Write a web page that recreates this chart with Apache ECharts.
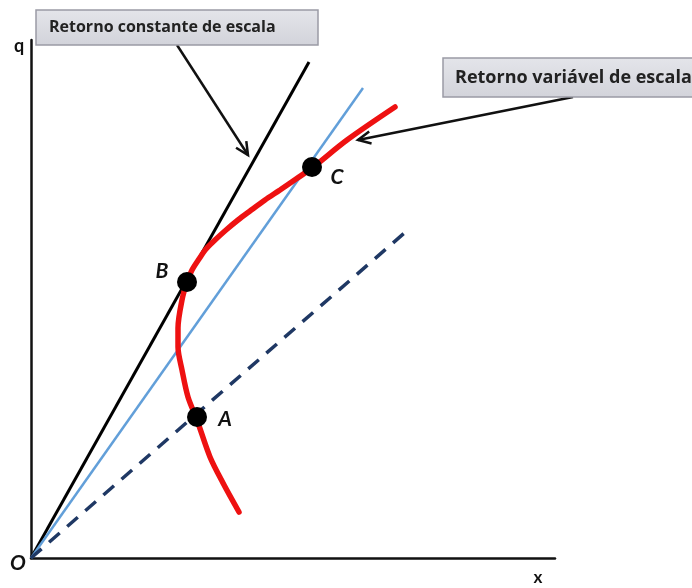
<!DOCTYPE html>
<html>
<head>
<meta charset="utf-8">
<script src="https://cdn.jsdelivr.net/npm/echarts@6/dist/echarts.min.js"></script>
<style>
  html, body { margin: 0; padding: 0; background: #fff; }
  #chart { width: 692px; height: 588px; }
</style>
</head>
<body>
<div id="chart"></div>
<script>
// rays from the origin (x, q)
const constantRay = [[0, 0], [278, 496]];
const blueRay = [[0, 0], [332, 470]];
const dashedRay = [[0, 0], [378, 329]];

// variable returns curve, from its lower end up to its upper end
const variableCurve = [
  [208, 46], [192, 75], [179, 101], [166, 138], [157, 161], [151, 188],
  [147, 211], [147, 230], [151, 258], [156, 276], [161, 288], [168, 299],
  [175, 309], [184, 318], [195, 328], [207, 338], [219, 347], [234, 358],
  [249, 368], [265, 379], [281, 390], [316, 418], [364, 451]
];

const pointNames = ['A', 'B', 'C'];
const pointValues = [[166, 141], [156, 276], [281, 391]];

// arrows: [from, to] in data units
const arrows = [
  [[146, 513], [217, 403]],
  [[542, 461], [327, 418]]
];

const labelFont = 'Lato, "Liberation Sans", sans-serif';
const boxFont = '"Open Sans", "Liberation Sans", sans-serif';
const labelOffsets = { A: [28, 2], B: [-25, -11], C: [25, 10] };

const chart = echarts.init(document.getElementById('chart'));

const option = {
  animation: false,
  grid: { left: 31, right: 137, top: 40, bottom: 30 },
  xAxis: {
    type: 'value', min: 0, max: 524,
    axisLine: { show: true, onZero: false, lineStyle: { color: '#111', width: 2.5 } },
    axisTick: { show: false }, axisLabel: { show: false }, splitLine: { show: false }
  },
  yAxis: {
    type: 'value', min: 0, max: 518,
    axisLine: { show: true, onZero: false, lineStyle: { color: '#111', width: 2.5 } },
    axisTick: { show: false }, axisLabel: { show: false }, splitLine: { show: false }
  },
  series: [
    {
      type: 'line', data: constantRay, symbol: 'none', z: 3,
      lineStyle: { color: '#000', width: 3 }
    },
    {
      type: 'line', data: blueRay, symbol: 'none', z: 3,
      lineStyle: { color: '#629fd9', width: 2.5 }
    },
    {
      type: 'line', data: dashedRay, symbol: 'none', z: 3,
      lineStyle: { color: '#1f3864', width: 3.5, type: [14, 10] }
    },
    {
      type: 'line', data: variableCurve, symbol: 'none', smooth: 0.3, z: 4,
      lineStyle: { color: '#ee1111', width: 5.5, cap: 'round' }
    },
    {
      type: 'scatter', z: 5, symbolSize: 20,
      itemStyle: { color: '#000', opacity: 1 },
      data: pointNames.map((n, i) => ({
        name: n,
        value: pointValues[i],
        label: {
          show: true, formatter: n, position: 'inside', offset: labelOffsets[n],
          color: '#111', fontSize: 21, fontStyle: 'italic', fontWeight: 'bold',
          fontFamily: labelFont
        }
      }))
    }
  ]
};

chart.setOption(option);

// annotation graphics
const graphics = [];
const textStyle = (t, x, y, size, italic) => ({
  type: 'text', x, y, z: 10,
  style: {
    text: t, fill: '#111', font: (italic ? 'italic ' : '') + 'bold ' + size + 'px ' + labelFont,
    textAlign: 'center', textVerticalAlign: 'middle'
  }
});
graphics.push(textStyle('q', 19, 46, 18, false));
graphics.push(textStyle('x', 538, 578, 17, false));
graphics.push(textStyle('O', 18, 563, 21, true));

const box = (x, y, w, h, t, tx, size) => ([
  {
    type: 'rect', z: 10,
    shape: { x, y, width: w, height: h },
    style: {
      fill: new echarts.graphic.LinearGradient(0, 0, 0, 1, [
        { offset: 0, color: '#e4e5ea' }, { offset: 1, color: '#d2d3da' }
      ]),
      stroke: '#9a9ba5', lineWidth: 1.5
    }
  },
  {
    type: 'text', z: 11, x: tx, y: y + h / 2,
    style: {
      text: t, fill: '#222', font: 'bold ' + size + 'px ' + boxFont,
      textAlign: 'left', textVerticalAlign: 'middle'
    }
  }
]);
graphics.push(...box(36, 10, 282, 35, 'Retorno constante de escala', 49, 16));
graphics.push(...box(443, 58, 270, 39, 'Retorno variável de escala', 455, 18));

arrows.forEach(([from, to]) => {
  const p0 = chart.convertToPixel({ gridIndex: 0 }, from);
  const p1 = chart.convertToPixel({ gridIndex: 0 }, to);
  const ang = Math.atan2(p0[1] - p1[1], p0[0] - p1[0]);
  const len = 14, spread = 0.45;
  const h1 = [p1[0] + len * Math.cos(ang + spread), p1[1] + len * Math.sin(ang + spread)];
  const h2 = [p1[0] + len * Math.cos(ang - spread), p1[1] + len * Math.sin(ang - spread)];
  graphics.push({
    type: 'line', z: 9,
    shape: { x1: p0[0], y1: p0[1], x2: p1[0], y2: p1[1] },
    style: { stroke: '#111', lineWidth: 2.5 }
  });
  graphics.push({
    type: 'polyline', z: 9,
    shape: { points: [h1, p1, h2] },
    style: { stroke: '#111', lineWidth: 2.5, fill: null }
  });
});

chart.setOption({ graphic: graphics });
</script>
</body>
</html>
